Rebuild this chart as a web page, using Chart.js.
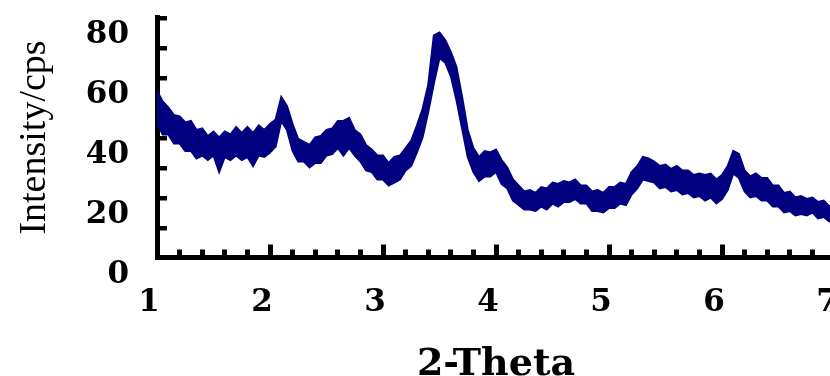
<!DOCTYPE html>
<html>
<head>
<meta charset="utf-8">
<script src="https://cdn.jsdelivr.net/npm/chart.js@4.4.1/dist/chart.umd.min.js"></script>
<style>
  html, body { margin: 0; padding: 0; overflow: hidden; background: #fff; }
  canvas { display: block; }
</style>
</head>
<body>
<canvas id="grafico" width="840" height="376"></canvas>
<script>
// 2-theta positions (degrees)
const thetaValues = [
  1.00, 1.05, 1.10, 1.15, 1.20, 1.25, 1.30, 1.35, 1.40, 1.45,
  1.50, 1.55, 1.60, 1.65, 1.70, 1.75, 1.80, 1.85, 1.90, 1.95,
  2.00, 2.05, 2.10, 2.15, 2.20, 2.25, 2.30, 2.35, 2.40, 2.45,
  2.50, 2.55, 2.60, 2.65, 2.70, 2.75, 2.80, 2.85, 2.90, 2.95,
  3.00, 3.05, 3.10, 3.15, 3.20, 3.25, 3.30, 3.35, 3.40, 3.45,
  3.50, 3.55, 3.60, 3.65, 3.70, 3.75, 3.80, 3.85, 3.90, 3.95,
  4.00, 4.05, 4.10, 4.15, 4.20, 4.25, 4.30, 4.35, 4.40, 4.45,
  4.50, 4.55, 4.60, 4.65, 4.70, 4.75, 4.80, 4.85, 4.90, 4.95,
  5.00, 5.05, 5.10, 5.15, 5.20, 5.25, 5.30, 5.35, 5.40, 5.45,
  5.50, 5.55, 5.60, 5.65, 5.70, 5.75, 5.80, 5.85, 5.90, 5.95,
  6.00, 6.05, 6.10, 6.15, 6.20, 6.25, 6.30, 6.35, 6.40, 6.45,
  6.50, 6.55, 6.60, 6.65, 6.70, 6.75, 6.80, 6.85, 6.90, 6.95,
  7.00
];

// top edge of the noisy trace (cps)
const upperIntensity = [
  55.5, 52.0, 50.0, 47.5, 47.0, 45.0, 45.5, 42.5, 43.0, 40.5,
  42.0, 40.0, 42.0, 41.0, 43.5, 41.5, 43.5, 41.5, 44.0, 42.5,
  44.5, 46.0, 53.5, 50.5, 44.5, 39.5, 38.5, 37.5, 40.0, 40.5,
  42.5, 43.0, 45.5, 45.5, 46.5, 42.5, 41.0, 37.5, 36.0, 34.0,
  34.0, 31.5, 33.5, 34.0, 36.5, 39.0, 44.0, 49.5, 57.5, 74.0,
  75.0, 72.5, 68.5, 63.5, 53.5, 42.5, 36.5, 33.5, 35.5, 35.0,
  36.0, 32.5, 30.0, 26.0, 24.0, 22.0, 22.5, 21.5, 23.5, 23.0,
  25.0, 24.5, 25.5, 25.0, 26.0, 24.0, 24.0, 22.0, 22.5, 21.5,
  23.5, 23.5, 25.0, 24.5, 28.5, 30.5, 33.5, 33.0, 32.0, 30.5,
  31.0, 29.5, 30.5, 29.0, 29.0, 27.5, 28.0, 27.5, 28.0, 26.0,
  27.5, 30.5, 35.5, 34.5, 29.0, 27.0, 28.0, 26.5, 26.5, 24.0,
  24.0, 21.5, 22.0, 20.0, 20.5, 19.5, 20.0, 18.5, 19.0, 17.0,
  17.0
];

// bottom edge of the noisy trace (cps)
const lowerIntensity = [
  45.0, 41.0, 41.0, 38.0, 38.0, 35.5, 35.5, 33.0, 34.0, 32.5,
  34.0, 28.5, 33.5, 32.5, 34.0, 32.5, 33.5, 30.5, 34.0, 33.5,
  35.0, 37.0, 45.5, 42.5, 35.5, 32.0, 32.0, 30.0, 31.5, 31.5,
  34.0, 34.5, 36.5, 34.0, 36.5, 34.0, 32.0, 29.0, 28.5, 26.0,
  26.0, 24.0, 25.0, 26.0, 29.0, 30.5, 35.0, 40.0, 48.5, 58.0,
  66.5, 65.0, 60.5, 52.5, 43.0, 33.5, 28.5, 25.5, 27.0, 27.0,
  28.5, 24.5, 23.0, 19.0, 17.5, 16.0, 16.0, 15.5, 17.0, 16.0,
  18.0, 17.0, 18.5, 18.5, 19.5, 18.0, 18.0, 15.5, 15.5, 15.0,
  16.5, 16.5, 18.0, 17.5, 21.0, 23.0, 26.0, 25.5, 25.0, 23.0,
  23.5, 22.0, 22.5, 21.0, 21.5, 20.0, 20.5, 19.0, 20.0, 18.0,
  19.5, 22.5, 28.0, 26.5, 22.0, 20.0, 20.5, 19.0, 19.0, 17.0,
  17.0, 15.0, 15.5, 14.0, 14.5, 14.0, 15.0, 13.0, 13.5, 12.0,
  12.0
];

const xTicks = [1, 2, 3, 4, 5, 6, 7];
const yTicks = [0, 20, 40, 60, 80];

const navy = '#000080';

// marcas de eje hacia dentro (mayores y menores)
const inwardTicks = {
  id: 'inwardTicks',
  beforeDatasetsDraw(chart) {
    const ctx = chart.ctx;
    const x = chart.scales.x;
    const y = chart.scales.y;
    const area = chart.chartArea;
    ctx.save();
    ctx.fillStyle = '#000';
    // eje x: cada 0.2, mayores en los enteros
    for (let i = 0; i <= 30; i++) {
      const v = 1 + i * 0.2;
      const px = x.getPixelForValue(v);
      const major = i % 5 === 0;
      const len = major ? 13 : 8;
      ctx.fillRect(Math.round(px - 2.5), area.bottom - len, 5, len);
    }
    // eje y: cada 10
    for (let v = 10; v <= 80; v += 10) {
      const py = y.getPixelForValue(v);
      ctx.fillRect(area.left, Math.round(py - 2), 10, 4.5);
    }
    ctx.restore();
  }
};

const ctx = document.getElementById('grafico');
window.myChart = new Chart(ctx, {
  type: 'line',
  data: {
    datasets: [{
      label: 'upper',
      data: thetaValues.map((t, i) => ({ x: t, y: upperIntensity[i] })),
      borderColor: navy,
      backgroundColor: navy,
      borderWidth: 2,
      pointRadius: 0,
      fill: false
    }, {
      label: 'lower',
      data: thetaValues.map((t, i) => ({ x: t, y: lowerIntensity[i] })),
      borderColor: navy,
      backgroundColor: navy,
      borderWidth: 2,
      pointRadius: 0,
      fill: '-1'
    }]
  },
  options: {
    responsive: false,
    animation: false,
    layout: { padding: { top: 17.5, right: 5, left: 0, bottom: 0 } },
    plugins: {
      legend: { display: false },
      tooltip: { enabled: false }
    },
    scales: {
      x: {
        type: 'linear',
        min: 1,
        max: 7,
        afterBuildTicks: (s) => { s.ticks = xTicks.map(v => ({ value: v })); },
        afterFit: (s) => { s.height = 118.5; s.paddingLeft = 0; s.paddingRight = 0; },
        grid: { display: false, drawTicks: false },
        border: { display: true, color: '#000', width: 5 },
        ticks: {
          color: '#000',
          padding: 27,
          labelOffset: -8,
          maxRotation: 0,
          autoSkip: false,
          font: { family: 'DejaVu Serif', weight: 'bold', size: 31 }
        },
        title: {
          display: true,
          text: '2-Theta',
          color: '#000',
          padding: { top: 0, bottom: 0 },
          font: { family: 'DejaVu Serif', weight: 'bold', size: 38, lineHeight: 0.55 }
        }
      },
      y: {
        min: 0,
        max: 80,
        afterBuildTicks: (s) => { s.ticks = yTicks.map(v => ({ value: v })); },
        afterFit: (s) => { s.width = 157; s.paddingTop = 0; s.paddingBottom = 0; },
        grid: { display: false, drawTicks: false },
        border: { display: true, color: '#000', width: 5 },
        ticks: {
          color: '#000',
          padding: 28,
          labelOffset: 17,
          font: { family: 'DejaVu Serif', weight: 'bold', size: 31 }
        },
        title: {
          display: true,
          text: 'Intensity/cps',
          color: '#000',
          padding: { top: 12, bottom: 0 },
          font: { family: 'Liberation Serif', weight: 'normal', size: 38 }
        }
      }
    }
  },
  plugins: [inwardTicks]
});
</script>
</body>
</html>
